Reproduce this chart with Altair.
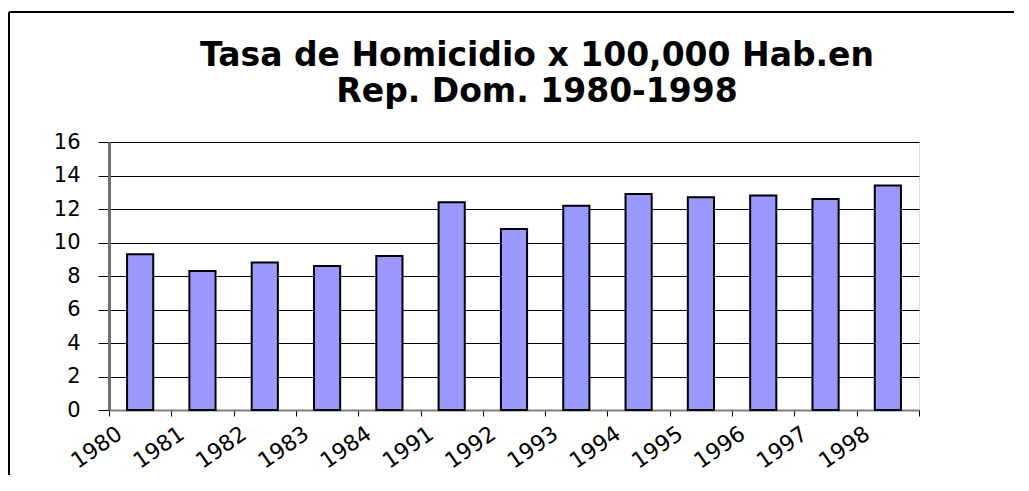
import altair as alt
import pandas as pd

years = ["1980", "1981", "1982", "1983", "1984", "1991", "1992",
         "1993", "1994", "1995", "1996", "1997", "1998"]
rates = [9.3, 8.3, 8.8, 8.6, 9.2, 12.4, 10.8, 12.2, 12.9, 12.7, 12.8, 12.6, 13.4]
y_ticks = [0, 2, 4, 6, 8, 10, 12, 14, 16]
title_lines = ["Tasa de Homicidio x 100,000 Hab.en", "Rep. Dom. 1980-1998"]

df = pd.DataFrame({"year": years, "rate": rates})
one = pd.DataFrame({"a": [0]})

W, H = 810, 268
FONT = "DejaVu Sans"

bars = alt.Chart(df).mark_bar(
    width=alt.RelativeBandSize(0.42),
    fill="#9999FF", stroke="black", strokeWidth=2
).encode(
    x=alt.X("year:N", sort=years, title=None,
            scale=alt.Scale(paddingInner=0, paddingOuter=0),
            axis=alt.Axis(tickBand="extent", labelAngle=-35, labelAlign="right",
                          labelBaseline="middle", labelOffset=-21, labelPadding=15,
                          tickSize=6, tickColor="black", tickWidth=1,
                          domainColor="#808080", domainWidth=2,
                          labelFont=FONT, labelFontSize=22, labelColor="black",
                          grid=False)),
    y=alt.Y("rate:Q", title=None,
            scale=alt.Scale(domain=[0, 16], nice=False),
            axis=alt.Axis(values=y_ticks, tickSize=11, tickColor="black", tickWidth=1,
                          domainColor="#707070", domainWidth=3,
                          labelFont=FONT, labelFontSize=21, labelColor="black",
                          labelPadding=18, grid=True, gridColor="black", gridWidth=1)),
)

border_top = alt.Chart(one).mark_rule(color="black", strokeWidth=2).encode(
    x=alt.value(-100), x2=alt.value(W + 95), y=alt.value(-130))
border_left = alt.Chart(one).mark_rule(color="black", strokeWidth=2).encode(
    x=alt.value(-100), y=alt.value(-130), y2=alt.value(H + 65))

chart = alt.layer(bars, border_top, border_left).properties(
    width=W, height=H,
    autosize=alt.AutoSizeParams(type="none"),
    padding={"left": 101, "top": 134, "right": 95, "bottom": 65},
    title=alt.TitleParams(text=title_lines, font=FONT, fontSize=33, fontWeight="bold",
                          lineHeight=36, anchor="middle", dx=23, dy=136, offset=38,
                          color="black"),
).configure_view(fill="#C0C0C0", stroke="#808080", strokeWidth=2).configure(background="white")

chart.save("out.html", embed_options={"renderer": "svg", "actions": False})
